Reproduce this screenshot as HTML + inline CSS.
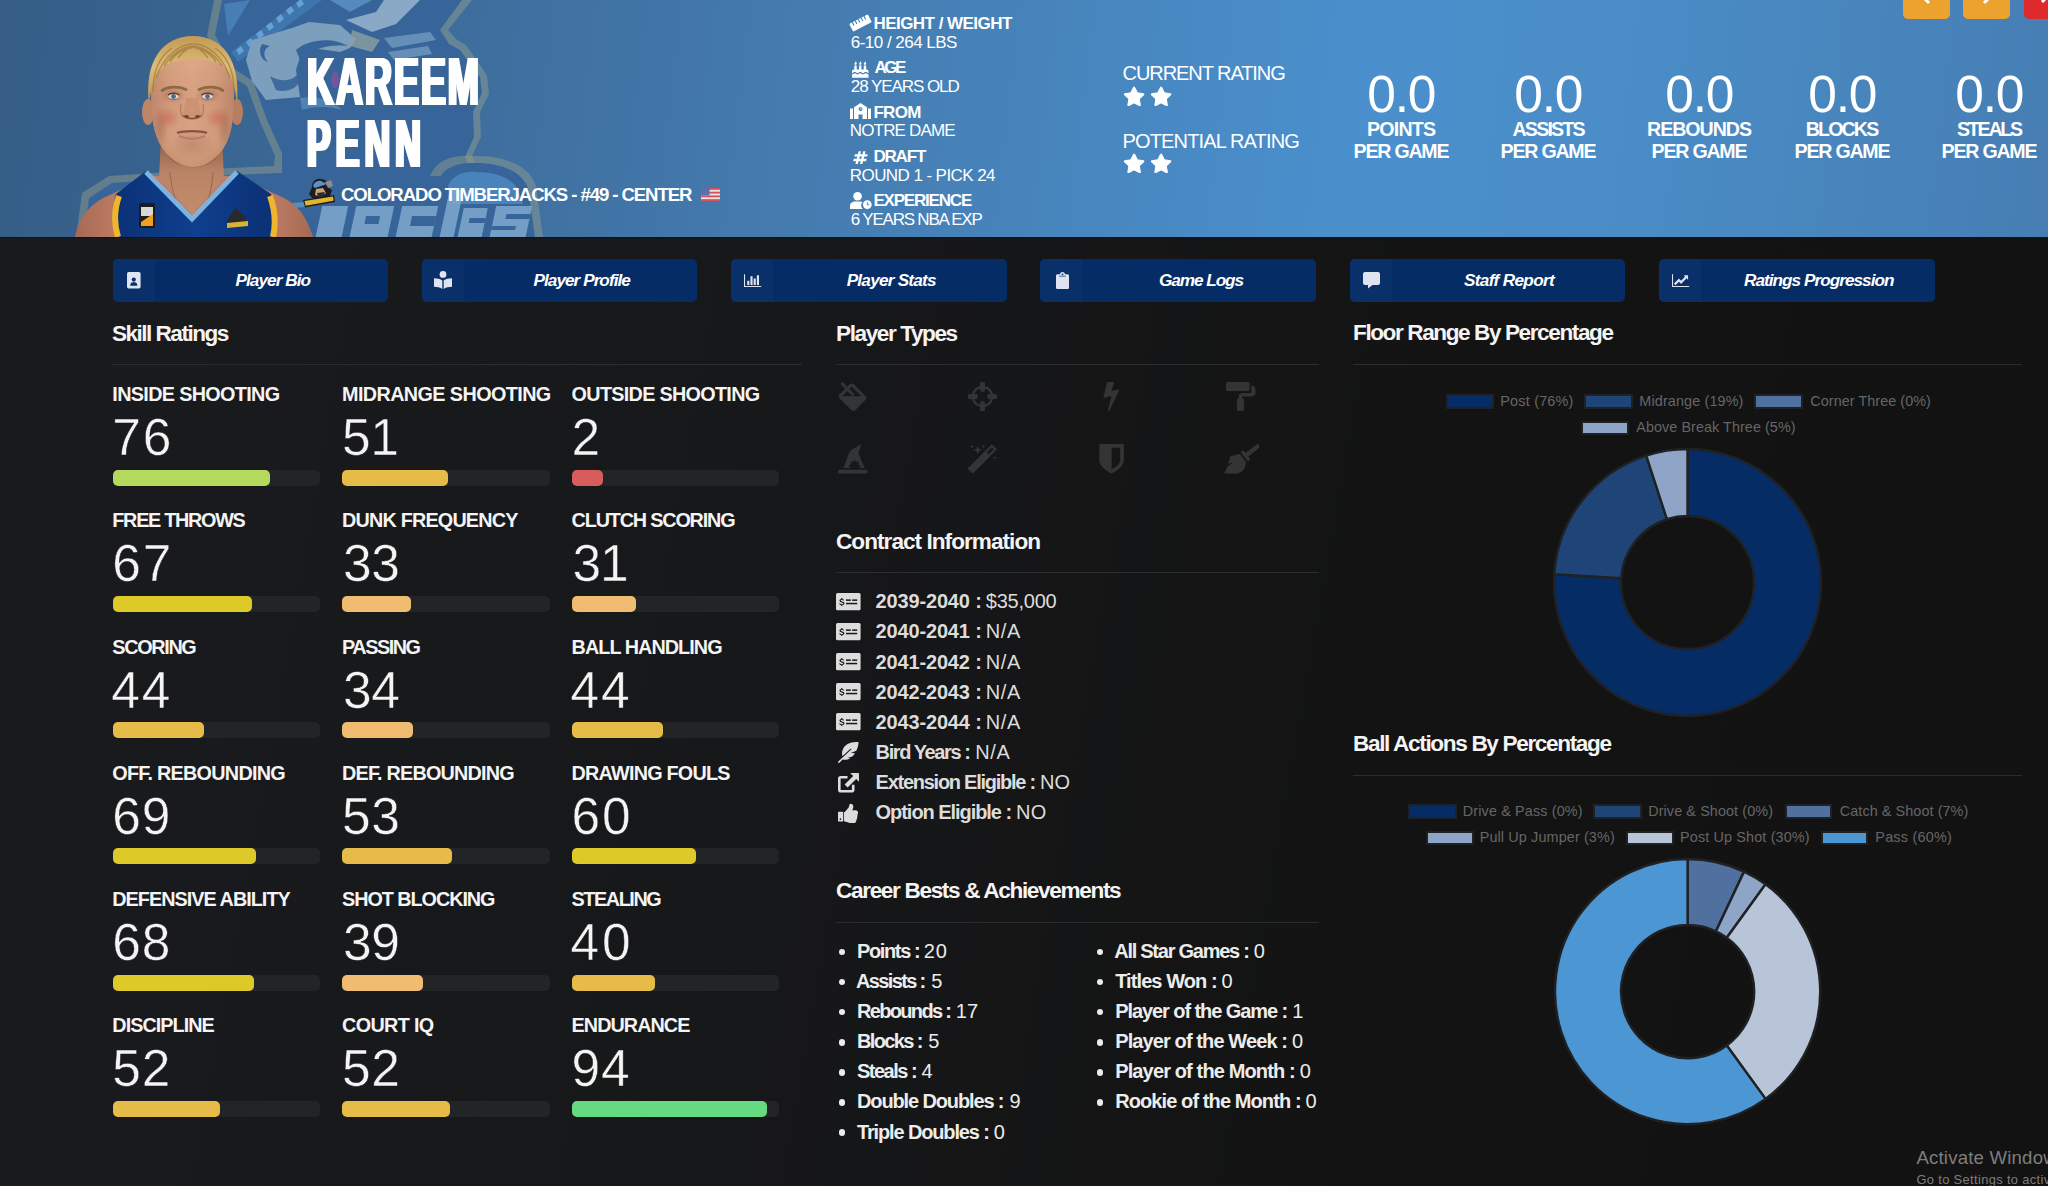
<!DOCTYPE html>
<html lang="en">
<head>
<meta charset="utf-8">
<title>Kareem Penn - Player</title>
<style>
html,body{margin:0;padding:0}
body{width:2048px;height:1186px;overflow:hidden;position:relative;background:linear-gradient(100deg,#1a1b1e 0%,#17181a 35%,#131313 70%,#121212 100%);font-family:"Liberation Sans",sans-serif;color:#fff}
.t{position:absolute;white-space:nowrap;line-height:1;color:#fff}
.ic{position:absolute;display:block;overflow:visible}
.abs{position:absolute}
#hdr{position:absolute;left:0;top:0;width:2048px;height:237px;overflow:hidden;background:linear-gradient(97deg,#355d86 0%,#3b6896 16%,#457cb0 40%,#4a90cd 66%,#4a8cc6 80%,#467eb3 100%)}
.tab{position:absolute;top:259px;width:275.5px;height:42.5px;border-radius:5px;background:#052c65}
.tab i{position:absolute;left:0;top:0;width:42px;height:42.5px;border-radius:5px 0 0 5px;background:#093068}
.hr{position:absolute;height:1px;background:#2b2c2e}
.bar{position:absolute;width:207.5px;height:16px;border-radius:5px;background:#232425}
.bar b{position:absolute;left:0;top:0;height:16px;border-radius:5px;display:block}
#hdrline{position:absolute;left:0;top:237px;width:2048px;height:1.4px;background:#04172b}

</style>
</head>
<body>
<header>
<div id="hdr">
<svg class="abs" style="left:0;top:0" width="700" height="237" viewBox="0 0 700 237">
<g stroke-linejoin="round" stroke-linecap="round">
 <!-- outer halo of the mark -->
 <path d="M214 0 L207 36 L228 74 L247 86 L260 122 L275 156 L274 166 L231 168 L109 176 L82 193 L76 237 L531 237 L526 196 L489 168 L480 176 L472 156 L481 137 L480 112 L489 94 L487 75 L466 45 L456 39 L448 30 L472 0 Z" fill="#8d9c8e" opacity=".5"/>
 <!-- navy body -->
 <path d="M222 0 L215 35 L234 69 L253 81 L267 120 L282 153 L282 173 L232 175 L112 183 L89 198 L84 237 L523 237 L519 200 L488 177 L478 183 L465 157 L474 137 L473 112 L482 93 L480 77 L460 50 L449 44 L440 30 L462 0 Z" fill="#37659a"/>
 <!-- beanie band + dashes -->
 <path d="M231 52 L300 0 L322 0 L238 62 Z" fill="#3f76ad"/>
 <g fill="#6aa6d8" opacity=".9">
  <path d="M236 50 l5 -4 l3 5 l-5 4 Z M246 42 l5 -4 l3 5 l-5 4 Z M256 34 l5 -4 l3 5 l-5 4 Z M266 26 l5 -4 l3 5 l-5 4 Z M276 18 l5 -4 l3 5 l-5 4 Z M286 10 l5 -4 l3 5 l-5 4 Z M296 3 l5 -4 l3 5 l-5 4 Z"/>
 </g>
 <path d="M224 4 L250 0 L228 36 Z" fill="#4a84bb" opacity=".8"/>
 <!-- face (light) -->
 <path d="M252 40 L282 31 L292 28 L309 22 L340 25 L356 39 L350 48 L340 52 L312 48 L301 54 L296 70 L300 97 L266 100 L252 81 L246 60 Z" fill="#7c9fbe"/>
 <path d="M262 44 C258 50 260 60 268 62 C262 56 264 48 270 46 Z" fill="#37659a"/>
 <path d="M296 50 C306 40 332 36 348 46 C330 44 312 48 300 60 Z" fill="#37659a"/>
 <path d="M270 76 C284 84 296 80 300 70 C304 84 292 94 276 90 Z" fill="#37659a" opacity=".9"/>
 <!-- axe head / right -->
 <path d="M346 20 L376 12 L384 0 L420 0 L396 24 L372 32 Z" fill="#89a9c6"/>
 <path d="M352 30 L380 40 L372 52 L350 46 Z" fill="#8ca0a0" opacity=".8"/>
 <path d="M384 38 L430 32 L436 40 L392 48 Z M388 52 L428 46 L432 54 L394 60 Z" fill="#6f97bd" opacity=".85"/>
 <path d="M330 0 L372 0 L350 12 Z" fill="#5b93c6" opacity=".8"/>
 <!-- moustache / beard highlights -->
 <path d="M300 98 C318 96 334 100 342 110 C330 106 314 106 302 110 Z" fill="#5a8fc1" opacity=".7"/>
 <ellipse cx="335" cy="80" rx="4" ry="8" fill="#8a4f9c" opacity=".75"/>
 <!-- wordmark: right lobe + block letters -->
 <path d="M430 176 C436 160 452 154 476 156 C506 156 530 166 536 186 L543 237 L523 237 L519 200 L488 177 Z" fill="#8d9c8e" opacity=".5"/>
 <path d="M438 180 C444 168 456 162 476 163 C502 163 522 172 528 188 L535 237 L440 237 Z" fill="#37659a"/>
 <path d="M448 186 C452 176 462 171 476 172 C498 172 514 179 519 192 L523 204 L452 204 Z" fill="#4a86c0" opacity=".9"/>
 <g fill="#7ba4ca" opacity=".9" transform="skewX(-12)">
  <path d="M366 206 h26 v31 h-26 Z M400 206 h38 v31 h-38 Z M446 206 h36 v31 h-36 Z M490 190 h14 v47 h-14 Z M508 208 h24 v29 h-24 Z M540 206 h36 v31 h-36 Z"/>
 </g>
 <g fill="#37659a" transform="skewX(-12)">
  <path d="M412 216 h14 v8 h-14 Z M458 216 h24 v10 h-24 Z M516 218 h16 v5 h-16 Z M552 214 h24 v5 h-24 Z M540 226 h24 v4 h-24 Z"/>
 </g>
 <!-- left letters: outlined -->
 <g fill="none" stroke="#5c97c9" stroke-width="5" opacity=".8" stroke-linejoin="round">
  <path d="M98 237 V212 Q98 203 108 201 L150 192"/>
  <path d="M286 237 V206 L312 204"/>
 </g>
</g>
</svg>
<svg class="abs" style="left:60px;top:20px" width="270" height="217" viewBox="60 20 270 217">
<defs>
 <linearGradient id="skin" x1="0" y1="0" x2="1" y2="0"><stop offset="0" stop-color="#a9745a"/><stop offset=".22" stop-color="#cf9777"/><stop offset=".5" stop-color="#dba585"/><stop offset=".78" stop-color="#cc9474"/><stop offset="1" stop-color="#a56f56"/></linearGradient>
 <linearGradient id="skinv" x1="0" y1="0" x2="0" y2="1"><stop offset="0" stop-color="#e3b48f"/><stop offset=".45" stop-color="#d39a7c"/><stop offset=".8" stop-color="#d6a183"/><stop offset="1" stop-color="#b98466"/></linearGradient>
 <linearGradient id="arm" x1="0" y1="0" x2="1" y2="0"><stop offset="0" stop-color="#a56a54"/><stop offset=".2" stop-color="#c17d65"/><stop offset=".8" stop-color="#c17d65"/><stop offset="1" stop-color="#a56a54"/></linearGradient>
 <linearGradient id="neck" x1="0" y1="0" x2="0" y2="1"><stop offset="0" stop-color="#8f5e47"/><stop offset=".45" stop-color="#b98366"/><stop offset="1" stop-color="#c48c6c"/></linearGradient>
 <linearGradient id="hair" x1="0" y1="0" x2="0" y2="1"><stop offset="0" stop-color="#c39a55"/><stop offset=".45" stop-color="#dcbb78"/><stop offset="1" stop-color="#b98d4c"/></linearGradient>
 <linearGradient id="jer" x1="0" y1="0" x2="1" y2="0"><stop offset="0" stop-color="#0b3176"/><stop offset=".5" stop-color="#0f3f8e"/><stop offset="1" stop-color="#0b3074"/></linearGradient>
 <radialGradient id="sock" cx=".5" cy=".5" r=".5"><stop offset="0" stop-color="#8d5a46" stop-opacity=".55"/><stop offset="1" stop-color="#8d5a46" stop-opacity="0"/></radialGradient>
 <radialGradient id="chk" cx=".5" cy=".5" r=".5"><stop offset="0" stop-color="#c9604f" stop-opacity=".55"/><stop offset="1" stop-color="#c9604f" stop-opacity="0"/></radialGradient>
</defs>
<!-- shoulders / arms -->
<path d="M75 237 C80 214 92 202 112 194 L150 176 L236 176 L275 194 C296 202 306 214 313 237 Z" fill="url(#arm)"/>
<!-- neck -->
<path d="M161 138 L222 138 L224 178 L192 214 L159 178 Z" fill="url(#neck)"/>
<path d="M170 172 C171 186 174 196 178 204 M213 172 C212 186 210 196 206 204" fill="none" stroke="#8a5a44" stroke-width="1" opacity=".7"/>
<!-- jersey -->
<path d="M117 237 C113 222 112 206 116 194 L146 171 L192 221 L237 171 L271 194 C275 206 277 222 275 237 Z" fill="url(#jer)"/>
<path d="M119 196 C114 210 114 224 118 237" fill="none" stroke="#f0b52e" stroke-width="6"/>
<path d="M270 196 C275 210 276 224 273 237" fill="none" stroke="#f0b52e" stroke-width="6"/>
<path d="M146 172 L192 219 L237 172" fill="none" stroke="#7db3dc" stroke-width="5" stroke-linejoin="miter"/>
<!-- jersey patches -->
<rect x="139" y="203" width="16" height="25" rx="2" fill="#1c1c1c"/>
<rect x="141" y="207" width="12" height="9" fill="#d8d8d8"/>
<path d="M141 222 L153 214 L153 226 L141 226 Z" fill="#f0a020"/>
<path d="M227 220 L236 208 L246 218 L248 225 L228 227 Z" fill="#2a2a2a"/>
<path d="M227 223 L248 221 L248 226 L227 228 Z" fill="#d9b23a"/>
<!-- ears -->
<ellipse cx="148" cy="112" rx="6" ry="13" fill="#bf8567"/>
<ellipse cx="237" cy="112" rx="6" ry="13" fill="#b87e61"/>
<!-- head -->
<path id="hd" d="M151 96 C150 60 166 42 193 42 C220 42 236 60 234 96 C234 122 231 140 220 153 C210 164 201 167 193 167 C185 167 176 164 166 153 C155 140 151 122 151 96 Z" fill="url(#skin)"/>
<path d="M151 96 C150 60 166 42 193 42 C220 42 236 60 234 96 C234 122 231 140 220 153 C210 164 201 167 193 167 C185 167 176 164 166 153 C155 140 151 122 151 96 Z" fill="url(#skinv)" opacity=".5"/>
<!-- eye sockets / cheeks -->
<ellipse cx="173" cy="95" rx="13" ry="8" fill="url(#sock)"/>
<ellipse cx="208" cy="95" rx="13" ry="8" fill="url(#sock)"/>
<ellipse cx="167" cy="118" rx="13" ry="11" fill="url(#chk)"/>
<ellipse cx="218" cy="118" rx="13" ry="11" fill="url(#chk)"/>
<ellipse cx="192" cy="144" rx="22" ry="15" fill="url(#sock)" opacity=".55"/><ellipse cx="160" cy="128" rx="8" ry="22" fill="url(#sock)" opacity=".6"/><ellipse cx="225" cy="128" rx="8" ry="22" fill="url(#sock)" opacity=".6"/>
<!-- hair -->
<path d="M149 104 C144 62 162 36 193 36 C224 36 241 62 237 104 C235 86 231 74 223 66 C211 57 176 57 164 66 C156 74 151 86 149 104 Z" fill="url(#hair)"/>
<path d="M156 78 C164 54 182 44 193 44 M164 66 C174 50 188 46 195 46 M230 78 C222 54 206 44 194 44 M222 66 C212 50 200 47 194 46 M178 58 C184 50 190 47 194 47 M208 58 C202 50 198 47 194 47 M153 92 C153 70 160 56 172 48 M234 92 C234 70 227 56 215 48 M170 62 C176 52 186 48 192 48 M216 62 C210 52 200 48 195 48" fill="none" stroke="#a47c3e" stroke-width="1.500" opacity=".75"/>
<!-- brows / eyes -->
<path d="M162 90.500 C168 86.500 178 86 186 89.500 M199 89.500 C207 86 217 86.500 223 90.500" fill="none" stroke="#8d6a42" stroke-width="2.800" stroke-linecap="round"/>
<ellipse cx="173.500" cy="96.500" rx="5" ry="2.500" fill="#e4d8d0"/>
<ellipse cx="207.500" cy="96.500" rx="5" ry="2.500" fill="#e4d8d0"/>
<circle cx="173.500" cy="96.500" r="2.400" fill="#466f8c"/>
<circle cx="207.500" cy="96.500" r="2.400" fill="#466f8c"/>
<path d="M168 95 C171 92.600 176 92.600 179.500 95 M201.500 95 C205 92.600 210 92.600 213 95" fill="none" stroke="#5a3a2e" stroke-width="1.300"/><path d="M169 98.500 C172 100 176 100 178.500 98.500 M202.500 98.500 C205 100 209 100 212 98.500" fill="none" stroke="#9a6a58" stroke-width=".9"/>
<!-- nose -->
<path d="M186 98 C185 108 182 112 183 116 C188 119 196 119 201 116 C202 112 199 108 198 98" fill="#c48a6b" opacity=".6"/>
<path d="M183 116 C188 119.500 196 119.500 201 116" fill="none" stroke="#8a5442" stroke-width="1.600"/><ellipse cx="186.500" cy="116.300" rx="2" ry="1.200" fill="#6e4033"/><ellipse cx="197.500" cy="116.300" rx="2" ry="1.200" fill="#6e4033"/><path d="M181 104 C180 110 180 114 183 117 M203 104 C204 110 204 114 201 117" fill="none" stroke="#a06a54" stroke-width="1.200" opacity=".7"/>
<!-- mouth -->
<path d="M177 133 C184 130.500 200 130.500 207 133" fill="none" stroke="#8c4f42" stroke-width="2.200"/>
<path d="M179 136 C187 139.500 197 139.500 205 136" fill="none" stroke="#b87462" stroke-width="2.400" opacity=".8"/>
<!-- jaw shade -->
<path d="M166 153 C176 164 185 167 193 167 C201 167 210 164 220 153 C212 172 174 172 166 153 Z" fill="#8f5e47" opacity=".55"/>
</svg>
</div>
<div id="hdrline"></div>
<h1 style="margin:0;font-size:inherit;font-weight:inherit">
<div class="t" style="left:306.59px;top:47px;font-size:68px;font-weight:bold;letter-spacing:3.6px;transform:scaleX(0.55);transform-origin:0 0;text-shadow:2.7px 0 0 #fff,-2.7px 0 0 #fff">KAREEM</div>
<div class="t" style="left:306.91px;top:109px;font-size:68px;font-weight:bold;letter-spacing:10px;transform:scaleX(0.52);transform-origin:0 0;text-shadow:3.25px 0 0 #fff,-3.25px 0 0 #fff">PENN</div>
</h1>
<svg class="ic" style="left:303px;top:178px" width="32" height="30" viewBox="0 0 32 30">
<path d="M9 9 C9 3 14 0 18 1 C23 1 27 5 26 10 L29 12 L27 18 L22 21 L10 21 L6 16 Z" fill="#1d1d1f"/>
<path d="M10 8 C11 4 15 2 18 3 L24 6 L12 10 Z" fill="#5f8fc4"/>
<path d="M13 11 L20 10 L23 15 L18 19 L12 17 Z" fill="#c9a27a"/>
<path d="M22 4 L28 2 L30 8 L25 10 Z" fill="#8d8d8d"/>
<path d="M14 15 L22 14 L20 19 L15 19 Z" fill="#2a2a2c"/>
<path d="M0 22 L31 17 L32 24 L2 29.500 Z" fill="#1d1d1f"/>
<path d="M1.500 23 L30 18.500 L30.600 22.800 L2.600 27.800 Z" fill="#e3b52e"/>
</svg>
<div class="t" style="left:341.00px;top:186px;font-size:18.6px;letter-spacing:-1.088px;font-weight:bold;">COLORADO TIMBERJACKS - #49 - CENTER</div>
<svg class="ic" style="left:701px;top:188px" width="19" height="13" viewBox="0 0 19 13">
<rect width="19" height="13" fill="#e8e4e6"/>
<g fill="#d8505a"><rect y="0" width="19" height="1.86"/><rect y="3.71" width="19" height="1.86"/><rect y="7.43" width="19" height="1.86"/><rect y="11.14" width="19" height="1.86"/></g>
<rect width="8.500" height="7.400" fill="#5a6fb0"/>
</svg>
<svg class="ic" style="left:850px;top:14.500px" width="21" height="16" viewBox="0 0 21 16"><g transform="rotate(-27 10.500 8)"><rect x="0" y="3.600" width="21" height="8.800" rx="1" fill="#fff"/><g fill="#4681b7"><rect x="3" y="3.600" width="1.100" height="3.600"/><rect x="6.300" y="3.600" width="1.100" height="3.600"/><rect x="9.600" y="3.600" width="1.100" height="3.600"/><rect x="12.900" y="3.600" width="1.100" height="3.600"/><rect x="16.200" y="3.600" width="1.100" height="3.600"/></g></g></svg>
<div class="t" style="left:873.40px;top:15px;font-size:17px;letter-spacing:-0.529px;font-weight:bold;">HEIGHT / WEIGHT</div>
<div class="t" style="left:850.80px;top:34px;font-size:17px;letter-spacing:-0.529px;">6-10 / 264 LBS</div>
<svg class="ic" style="left:852px;top:58.5px;" width="16.5" height="16.5" viewBox="0 -256 1792 1792"><path fill="#fff" transform="translate(0,1536) scale(1,-1)" d="M1792 128v-384h-1792v384q45 0 85 14t59 27.5t47 37.5q30 27 51.5 38t56.5 11q24 0 44 -7t31 -15t33 -27q29 -25 47 -38t58 -27t86 -14q45 0 85 14.5t58 27t48 37.5q21 19 32.5 27t31 15t43.5 7q35 0 56.5 -11t51.5 -38q28 -24 47 -37.5t59 -27.5t85 -14t85 14t59 27.5
t47 37.5q30 27 51.5 38t56.5 11q34 0 55.5 -11t51.5 -38q28 -24 47 -37.5t59 -27.5t85 -14zM1792 448v-192q-24 0 -44 7t-31 15t-33 27q-29 25 -47 38t-58 27t-85 14q-46 0 -86 -14t-58 -27t-47 -38q-22 -19 -33 -27t-31 -15t-44 -7q-35 0 -56.5 11t-51.5 38q-29 25 -47 38
t-58 27t-86 14q-45 0 -85 -14.5t-58 -27t-48 -37.5q-21 -19 -32.5 -27t-31 -15t-43.5 -7q-35 0 -56.5 11t-51.5 38q-28 24 -47 37.5t-59 27.5t-85 14q-46 0 -86 -14t-58 -27t-47 -38q-30 -27 -51.5 -38t-56.5 -11v192q0 80 56 136t136 56h64v448h256v-448h256v448h256v-448
h256v448h256v-448h64q80 0 136 -56t56 -136zM512 1312q0 -77 -36 -118.5t-92 -41.5q-53 0 -90.5 37.5t-37.5 90.5q0 29 9.5 51t23.5 34t31 28t31 31.5t23.5 44.5t9.5 67q38 0 83 -74t45 -150zM1024 1312q0 -77 -36 -118.5t-92 -41.5q-53 0 -90.5 37.5t-37.5 90.5
q0 29 9.5 51t23.5 34t31 28t31 31.5t23.5 44.5t9.5 67q38 0 83 -74t45 -150zM1536 1312q0 -77 -36 -118.5t-92 -41.5q-53 0 -90.5 37.5t-37.5 90.5q0 29 9.5 51t23.5 34t31 28t31 31.5t23.5 44.5t9.5 67q38 0 83 -74t45 -150z"/></svg>
<div class="t" style="left:874.40px;top:59px;font-size:17px;letter-spacing:-2.450px;font-weight:bold;">AGE</div>
<div class="t" style="left:850.80px;top:78px;font-size:17px;letter-spacing:-1.065px;">28 YEARS OLD</div>
<svg class="ic" style="left:850px;top:103px" width="21" height="16" viewBox="0 0 21 16"><path fill="#fff" d="M0 5.500h3v10.500h-3z M18 5.500h3v10.500h-3z M4 4.200 L10.500 0 L17 4.200 V16 H12.500 V11.500 H8.500 V16 H4 Z"/><circle cx="10.500" cy="6" r="2" fill="#4783b9"/><path d="M10.500 4.800V6H11.600" stroke="#fff" stroke-width=".7" fill="none"/></svg>
<div class="t" style="left:873.40px;top:104px;font-size:17px;letter-spacing:-0.678px;font-weight:bold;">FROM</div>
<div class="t" style="left:849.80px;top:122px;font-size:17px;letter-spacing:-0.839px;">NOTRE DAME</div>
<svg class="ic" style="left:852.5px;top:148px;" width="15" height="15" viewBox="0 -256 1792 1792"><path fill="#fff" transform="translate(0,1536) scale(1,-1)" d="M991 512l64 256h-254l-64 -256h254zM1759 1016l-56 -224q-7 -24 -31 -24h-327l-64 -256h311q15 0 25 -12q10 -14 6 -28l-56 -224q-5 -24 -31 -24h-327l-81 -328q-7 -24 -31 -24h-224q-16 0 -26 12q-9 12 -6 28l78 312h-254l-81 -328q-7 -24 -31 -24h-225q-15 0 -25 12
q-9 12 -6 28l78 312h-311q-15 0 -25 12q-9 12 -6 28l56 224q7 24 31 24h327l64 256h-311q-15 0 -25 12q-10 14 -6 28l56 224q5 24 31 24h327l81 328q7 24 32 24h224q15 0 25 -12q9 -12 6 -28l-78 -312h254l81 328q7 24 32 24h224q15 0 25 -12q9 -12 6 -28l-78 -312h311
q15 0 25 -12q9 -12 6 -28z"/></svg>
<div class="t" style="left:873.40px;top:148px;font-size:17px;letter-spacing:-1.179px;font-weight:bold;">DRAFT</div>
<div class="t" style="left:849.80px;top:167px;font-size:17px;letter-spacing:-0.579px;">ROUND 1 - PICK 24</div>
<svg class="ic" style="left:850px;top:192px" width="22" height="17" viewBox="0 0 22 17"><circle cx="7.600" cy="4.300" r="4.300" fill="#fff"/><path fill="#fff" d="M0 17 V14 C0 11 2.500 9.400 5 9.400 H10.200 C11 9.400 12 9.600 12.600 10 C11.500 11.200 11 12.600 11.200 14 C11.400 15.200 12 16.200 12.800 17 Z"/><circle cx="17.300" cy="12.600" r="4.400" fill="#fff"/><path d="M17.300 10.200V12.800H19.200" stroke="#4a88c0" stroke-width="1" fill="none"/></svg>
<div class="t" style="left:873.40px;top:192px;font-size:17px;letter-spacing:-1.194px;font-weight:bold;">EXPERIENCE</div>
<div class="t" style="left:850.80px;top:211px;font-size:17px;letter-spacing:-1.210px;">6 YEARS NBA EXP</div>
<div class="t" style="left:1122.50px;top:63px;font-size:20px;letter-spacing:-1.057px;">CURRENT RATING</div>
<div class="t" style="left:1122.50px;top:131px;font-size:20px;letter-spacing:-0.847px;">POTENTIAL RATING</div>
<svg class="ic" style="left:1124.4px;top:86.6px" width="20.2" height="18.6" viewBox="0 0 1664 1587" preserveAspectRatio="xMidYMid meet"><path stroke="#fff" stroke-width="90" stroke-linejoin="round" fill="#fff" transform="translate(-0,1504) scale(1,-1)" d="M1664 889q0 -22 -26 -48l-363 -354l86 -500q1 -7 1 -20q0 -21 -10.5 -35.5t-30.5 -14.5q-19 0 -40 12l-449 236l-449 -236q-22 -12 -40 -12q-21 0 -31.5 14.5t-10.5 35.5q0 6 2 20l86 500l-364 354q-25 27 -25 48q0 37 56 46l502 73l225 455q19 41 49 41t49 -41l225 -455
l502 -73q56 -9 56 -46z"/></svg>
<svg class="ic" style="left:1151.4px;top:86.6px" width="20.2" height="18.6" viewBox="0 0 1664 1587" preserveAspectRatio="xMidYMid meet"><path stroke="#fff" stroke-width="90" stroke-linejoin="round" fill="#fff" transform="translate(-0,1504) scale(1,-1)" d="M1664 889q0 -22 -26 -48l-363 -354l86 -500q1 -7 1 -20q0 -21 -10.5 -35.5t-30.5 -14.5q-19 0 -40 12l-449 236l-449 -236q-22 -12 -40 -12q-21 0 -31.5 14.5t-10.5 35.5q0 6 2 20l86 500l-364 354q-25 27 -25 48q0 37 56 46l502 73l225 455q19 41 49 41t49 -41l225 -455
l502 -73q56 -9 56 -46z"/></svg>
<svg class="ic" style="left:1124.4px;top:154.1px" width="20.2" height="18.6" viewBox="0 0 1664 1587" preserveAspectRatio="xMidYMid meet"><path stroke="#fff" stroke-width="90" stroke-linejoin="round" fill="#fff" transform="translate(-0,1504) scale(1,-1)" d="M1664 889q0 -22 -26 -48l-363 -354l86 -500q1 -7 1 -20q0 -21 -10.5 -35.5t-30.5 -14.5q-19 0 -40 12l-449 236l-449 -236q-22 -12 -40 -12q-21 0 -31.5 14.5t-10.5 35.5q0 6 2 20l86 500l-364 354q-25 27 -25 48q0 37 56 46l502 73l225 455q19 41 49 41t49 -41l225 -455
l502 -73q56 -9 56 -46z"/></svg>
<svg class="ic" style="left:1151.4px;top:154.1px" width="20.2" height="18.6" viewBox="0 0 1664 1587" preserveAspectRatio="xMidYMid meet"><path stroke="#fff" stroke-width="90" stroke-linejoin="round" fill="#fff" transform="translate(-0,1504) scale(1,-1)" d="M1664 889q0 -22 -26 -48l-363 -354l86 -500q1 -7 1 -20q0 -21 -10.5 -35.5t-30.5 -14.5q-19 0 -40 12l-449 236l-449 -236q-22 -12 -40 -12q-21 0 -31.5 14.5t-10.5 35.5q0 6 2 20l86 500l-364 354q-25 27 -25 48q0 37 56 46l502 73l225 455q19 41 49 41t49 -41l225 -455
l502 -73q56 -9 56 -46z"/></svg>
<div class="t" style="left:1367.14px;top:69px;font-size:51.5px;letter-spacing:-1.111px;">0.0</div>
<div class="t" style="left:1366.90px;top:120px;font-size:19.6px;letter-spacing:-0.736px;font-weight:bold;">POINTS</div>
<div class="t" style="left:1353.54px;top:142px;font-size:19.6px;letter-spacing:-1.217px;font-weight:bold;">PER GAME</div>
<div class="t" style="left:1514.14px;top:69px;font-size:51.5px;letter-spacing:-1.111px;">0.0</div>
<div class="t" style="left:1512.54px;top:120px;font-size:19.6px;letter-spacing:-1.808px;font-weight:bold;">ASSISTS</div>
<div class="t" style="left:1500.54px;top:142px;font-size:19.6px;letter-spacing:-1.217px;font-weight:bold;">PER GAME</div>
<div class="t" style="left:1665.14px;top:69px;font-size:51.5px;letter-spacing:-1.111px;">0.0</div>
<div class="t" style="left:1647.05px;top:120px;font-size:19.6px;letter-spacing:-1.023px;font-weight:bold;">REBOUNDS</div>
<div class="t" style="left:1651.54px;top:142px;font-size:19.6px;letter-spacing:-1.217px;font-weight:bold;">PER GAME</div>
<div class="t" style="left:1808.14px;top:69px;font-size:51.5px;letter-spacing:-1.111px;">0.0</div>
<div class="t" style="left:1805.85px;top:120px;font-size:19.6px;letter-spacing:-1.870px;font-weight:bold;">BLOCKS</div>
<div class="t" style="left:1794.54px;top:142px;font-size:19.6px;letter-spacing:-1.217px;font-weight:bold;">PER GAME</div>
<div class="t" style="left:1955.14px;top:69px;font-size:51.5px;letter-spacing:-1.111px;">0.0</div>
<div class="t" style="left:1956.89px;top:120px;font-size:19.6px;letter-spacing:-2.200px;font-weight:bold;">STEALS</div>
<div class="t" style="left:1941.54px;top:142px;font-size:19.6px;letter-spacing:-1.217px;font-weight:bold;">PER GAME</div>
<div class="abs" style="left:1903px;top:-6px;width:46.500px;height:25px;border-radius:5px;background:#eba32e"></div>
<div class="abs" style="left:1963px;top:-6px;width:46.500px;height:25px;border-radius:5px;background:#eba32e"></div>
<div class="abs" style="left:2024px;top:-6px;width:46.500px;height:25px;border-radius:5px;background:#de2a2c"></div>
<svg class="ic" style="left:1921px;top:-10.500px" width="10" height="14" viewBox="0 0 10 14"><path d="M8 1 L2 7 L8 13" stroke="#fff" stroke-width="3" fill="none"/></svg>
<svg class="ic" style="left:1982px;top:-10.500px" width="10" height="14" viewBox="0 0 10 14"><path d="M2 1 L8 7 L2 13" stroke="#fff" stroke-width="3" fill="none"/></svg>
<svg class="ic" style="left:2040px;top:-10.500px" width="14" height="14" viewBox="0 0 14 14"><path d="M2 2 L12 12 M12 2 L2 12" stroke="#fff" stroke-width="3" fill="none"/></svg>
</header>
<nav>
<div class="tab" style="left:112.5px"><i></i></div>
<div class="t" style="left:235.50px;top:272px;font-size:17.2px;letter-spacing:-0.952px;font-weight:bold;font-style:italic;">Player Bio</div>
<svg class="ic" style="left:127.2px;top:271.900px" width="13.600" height="16.500" viewBox="0 0 13.600 16.500"><rect width="13.600" height="16.500" rx="1.700" fill="#dfe4f0"/><circle cx="6.800" cy="7.600" r="2.050" fill="#0a3068"/><path fill="#0a3068" d="M3.300 13.200 C3.300 11.400 4.600 10.300 5.800 10.300 H7.800 C9 10.300 10.300 11.400 10.300 13.200 C10.300 13.600 10 13.800 9.700 13.800 H3.900 C3.600 13.800 3.300 13.600 3.300 13.200 Z"/></svg>
<div class="tab" style="left:421.8px"><i></i></div>
<div class="t" style="left:533.50px;top:272px;font-size:17.2px;letter-spacing:-0.962px;font-weight:bold;font-style:italic;">Player Profile</div>
<svg class="ic" style="left:434.4px;top:271px" width="18" height="18" viewBox="0 0 18 18"><circle cx="9" cy="3.400" r="3.400" fill="#dfe4f0"/><path fill="#dfe4f0" d="M0 7.200 C3 7.200 6.500 8 8.300 9.600 V18 C6.500 16.500 3 15.700 0 15.700 Z M18 7.200 C15 7.200 11.500 8 9.700 9.600 V18 C11.500 16.500 15 15.700 18 15.700 Z"/></svg>
<div class="tab" style="left:731.1px"><i></i></div>
<div class="t" style="left:846.70px;top:272px;font-size:17.2px;letter-spacing:-0.777px;font-weight:bold;font-style:italic;">Player Stats</div>
<svg class="ic" style="left:744.2px;top:271.2px;" width="17.1429" height="15" viewBox="0 -256 2048 1792"><path fill="#dfe4f0" transform="translate(0,1536) scale(1,-1)" d="M640 640v-512h-256v512h256zM1024 1152v-1024h-256v1024h256zM2048 0v-128h-2048v1536h128v-1408h1920zM1408 896v-768h-256v768h256zM1792 1280v-1152h-256v1152h256z"/></svg>
<div class="tab" style="left:1040.4px"><i></i></div>
<div class="t" style="left:1159.00px;top:272px;font-size:17.2px;letter-spacing:-1.068px;font-weight:bold;font-style:italic;">Game Logs</div>
<svg class="ic" style="left:1055.5px;top:271.500px" width="13" height="17" viewBox="0 0 13 17"><path fill="#dfe4f0" d="M1.600 2.200 H4 C4.200 .9 5.200 0 6.500 0 C7.800 0 8.800 .9 9 2.200 H11.400 C12.300 2.200 13 2.900 13 3.800 V15.400 C13 16.300 12.300 17 11.400 17 H1.600 C.7 17 0 16.300 0 15.400 V3.800 C0 2.900 .7 2.200 1.600 2.200 Z"/><circle cx="6.500" cy="2.300" r=".9" fill="#0a3068"/><rect x="3.200" y="3.600" width="6.600" height="1.300" fill="#0a3068" opacity=".55"/></svg>
<div class="tab" style="left:1349.7px"><i></i></div>
<div class="t" style="left:1464.00px;top:272px;font-size:17.2px;letter-spacing:-0.665px;font-weight:bold;font-style:italic;">Staff Report</div>
<svg class="ic" style="left:1362.8px;top:272px" width="17" height="17" viewBox="0 0 17 17"><path fill="#dfe4f0" d="M2 0 H15 C16.100 0 17 .9 17 2 V11 C17 12.100 16.100 13 15 13 H9.500 L5 16.600 V13 H2 C.9 13 0 12.100 0 11 V2 C0 .9 .9 0 2 0 Z"/></svg>
<div class="tab" style="left:1659.0px"><i></i></div>
<div class="t" style="left:1744.00px;top:272px;font-size:17.2px;letter-spacing:-0.977px;font-weight:bold;font-style:italic;">Ratings Progression</div>
<svg class="ic" style="left:1672.1px;top:271.2px;" width="17.1429" height="15" viewBox="0 -256 2048 1792"><path fill="#dfe4f0" transform="translate(0,1536) scale(1,-1)" d="M2048 0v-128h-2048v1536h128v-1408h1920zM1920 1248v-435q0 -21 -19.5 -29.5t-35.5 7.5l-121 121l-633 -633q-10 -10 -23 -10t-23 10l-233 233l-416 -416l-192 192l585 585q10 10 23 10t23 -10l233 -233l464 464l-121 121q-16 16 -7.5 35.5t29.5 19.5h435q14 0 23 -9
t9 -23z"/></svg>
</nav>
<main>
<section id="skills">
<div class="t" style="left:112.00px;top:323px;font-size:22.6px;letter-spacing:-1.528px;font-weight:bold;color:#f4f4f4;">Skill Ratings</div>
<div class="hr" style="left:112px;top:364px;width:690px"></div>
<div class="t" style="left:112.30px;top:385px;font-size:19.8px;letter-spacing:-0.653px;font-weight:bold;color:#f4f4f4;">INSIDE SHOOTING</div>
<div class="t" style="left:112.30px;top:412px;font-size:51.5px;letter-spacing:1.703px;color:#f4f4f4;-webkit-text-stroke:.5px #18191b;">76</div>
<div class="bar" style="left:112.5px;top:469.50px"><b style="width:157.7px;background:#B4D95C"></b></div>
<div class="t" style="left:342.00px;top:385px;font-size:19.8px;letter-spacing:-0.592px;font-weight:bold;color:#f4f4f4;">MIDRANGE SHOOTING</div>
<div class="t" style="left:342.00px;top:412px;font-size:51.5px;letter-spacing:-0.297px;color:#f4f4f4;-webkit-text-stroke:.5px #18191b;">51</div>
<div class="bar" style="left:342.2px;top:469.50px"><b style="width:105.8px;background:#E6BB48"></b></div>
<div class="t" style="left:571.60px;top:385px;font-size:19.8px;letter-spacing:-0.693px;font-weight:bold;color:#f4f4f4;">OUTSIDE SHOOTING</div>
<div class="t" style="left:571.60px;top:412px;font-size:51.5px;color:#f4f4f4;-webkit-text-stroke:.5px #18191b;">2</div>
<div class="bar" style="left:571.8px;top:469.50px"><b style="width:31.0px;background:#D95C5C"></b></div>
<div class="t" style="left:112.30px;top:511px;font-size:19.8px;letter-spacing:-1.267px;font-weight:bold;color:#f4f4f4;">FREE THROWS</div>
<div class="t" style="left:112.30px;top:538px;font-size:51.5px;letter-spacing:1.703px;color:#f4f4f4;-webkit-text-stroke:.5px #18191b;">67</div>
<div class="bar" style="left:112.5px;top:595.75px"><b style="width:139.0px;background:#DDC928"></b></div>
<div class="t" style="left:342.00px;top:511px;font-size:19.8px;letter-spacing:-0.800px;font-weight:bold;color:#f4f4f4;">DUNK FREQUENCY</div>
<div class="t" style="left:343.00px;top:538px;font-size:51.5px;letter-spacing:-0.297px;color:#f4f4f4;-webkit-text-stroke:.5px #18191b;">33</div>
<div class="bar" style="left:342.2px;top:595.75px"><b style="width:68.5px;background:#EFBC72"></b></div>
<div class="t" style="left:571.60px;top:511px;font-size:19.8px;letter-spacing:-1.166px;font-weight:bold;color:#f4f4f4;">CLUTCH SCORING</div>
<div class="t" style="left:572.60px;top:538px;font-size:51.5px;letter-spacing:-1.297px;color:#f4f4f4;-webkit-text-stroke:.5px #18191b;">31</div>
<div class="bar" style="left:571.8px;top:595.75px"><b style="width:64.3px;background:#EFBC72"></b></div>
<div class="t" style="left:112.30px;top:638px;font-size:19.8px;letter-spacing:-1.312px;font-weight:bold;color:#f4f4f4;">SCORING</div>
<div class="t" style="left:111.30px;top:665px;font-size:51.5px;letter-spacing:1.703px;color:#f4f4f4;-webkit-text-stroke:.5px #18191b;">44</div>
<div class="bar" style="left:112.5px;top:722.00px"><b style="width:91.3px;background:#E6BB48"></b></div>
<div class="t" style="left:342.00px;top:638px;font-size:19.8px;letter-spacing:-1.431px;font-weight:bold;color:#f4f4f4;">PASSING</div>
<div class="t" style="left:343.00px;top:665px;font-size:51.5px;letter-spacing:-0.297px;color:#f4f4f4;-webkit-text-stroke:.5px #18191b;">34</div>
<div class="bar" style="left:342.2px;top:722.00px"><b style="width:70.5px;background:#EFBC72"></b></div>
<div class="t" style="left:571.60px;top:638px;font-size:19.8px;letter-spacing:-0.943px;font-weight:bold;color:#f4f4f4;">BALL HANDLING</div>
<div class="t" style="left:570.60px;top:665px;font-size:51.5px;letter-spacing:1.703px;color:#f4f4f4;-webkit-text-stroke:.5px #18191b;">44</div>
<div class="bar" style="left:571.8px;top:722.00px"><b style="width:91.3px;background:#E6BB48"></b></div>
<div class="t" style="left:112.30px;top:764px;font-size:19.8px;letter-spacing:-0.724px;font-weight:bold;color:#f4f4f4;">OFF. REBOUNDING</div>
<div class="t" style="left:112.30px;top:791px;font-size:51.5px;letter-spacing:0.703px;color:#f4f4f4;-webkit-text-stroke:.5px #18191b;">69</div>
<div class="bar" style="left:112.5px;top:848.25px"><b style="width:143.2px;background:#DDC928"></b></div>
<div class="t" style="left:342.00px;top:764px;font-size:19.8px;letter-spacing:-0.777px;font-weight:bold;color:#f4f4f4;">DEF. REBOUNDING</div>
<div class="t" style="left:342.00px;top:791px;font-size:51.5px;letter-spacing:0.703px;color:#f4f4f4;-webkit-text-stroke:.5px #18191b;">53</div>
<div class="bar" style="left:342.2px;top:848.25px"><b style="width:110.0px;background:#E6BB48"></b></div>
<div class="t" style="left:571.60px;top:764px;font-size:19.8px;letter-spacing:-0.773px;font-weight:bold;color:#f4f4f4;">DRAWING FOULS</div>
<div class="t" style="left:571.60px;top:791px;font-size:51.5px;letter-spacing:1.703px;color:#f4f4f4;-webkit-text-stroke:.5px #18191b;">60</div>
<div class="bar" style="left:571.8px;top:848.25px"><b style="width:124.5px;background:#DDC928"></b></div>
<div class="t" style="left:112.30px;top:890px;font-size:19.8px;letter-spacing:-0.962px;font-weight:bold;color:#f4f4f4;">DEFENSIVE ABILITY</div>
<div class="t" style="left:112.30px;top:917px;font-size:51.5px;letter-spacing:0.703px;color:#f4f4f4;-webkit-text-stroke:.5px #18191b;">68</div>
<div class="bar" style="left:112.5px;top:974.50px"><b style="width:141.1px;background:#DDC928"></b></div>
<div class="t" style="left:342.00px;top:890px;font-size:19.8px;letter-spacing:-1.037px;font-weight:bold;color:#f4f4f4;">SHOT BLOCKING</div>
<div class="t" style="left:343.00px;top:917px;font-size:51.5px;letter-spacing:-0.297px;color:#f4f4f4;-webkit-text-stroke:.5px #18191b;">39</div>
<div class="bar" style="left:342.2px;top:974.50px"><b style="width:80.9px;background:#EFBC72"></b></div>
<div class="t" style="left:571.60px;top:890px;font-size:19.8px;letter-spacing:-1.425px;font-weight:bold;color:#f4f4f4;">STEALING</div>
<div class="t" style="left:570.60px;top:917px;font-size:51.5px;letter-spacing:2.703px;color:#f4f4f4;-webkit-text-stroke:.5px #18191b;">40</div>
<div class="bar" style="left:571.8px;top:974.50px"><b style="width:83.0px;background:#E6BB48"></b></div>
<div class="t" style="left:112.30px;top:1016px;font-size:19.8px;letter-spacing:-0.948px;font-weight:bold;color:#f4f4f4;">DISCIPLINE</div>
<div class="t" style="left:112.30px;top:1043px;font-size:51.5px;letter-spacing:0.703px;color:#f4f4f4;-webkit-text-stroke:.5px #18191b;">52</div>
<div class="bar" style="left:112.5px;top:1100.75px"><b style="width:107.9px;background:#E6BB48"></b></div>
<div class="t" style="left:342.00px;top:1016px;font-size:19.8px;letter-spacing:-0.646px;font-weight:bold;color:#f4f4f4;">COURT IQ</div>
<div class="t" style="left:342.00px;top:1043px;font-size:51.5px;letter-spacing:0.703px;color:#f4f4f4;-webkit-text-stroke:.5px #18191b;">52</div>
<div class="bar" style="left:342.2px;top:1100.75px"><b style="width:107.9px;background:#E6BB48"></b></div>
<div class="t" style="left:571.60px;top:1016px;font-size:19.8px;letter-spacing:-0.957px;font-weight:bold;color:#f4f4f4;">ENDURANCE</div>
<div class="t" style="left:571.60px;top:1043px;font-size:51.5px;letter-spacing:0.703px;color:#f4f4f4;-webkit-text-stroke:.5px #18191b;">94</div>
<div class="bar" style="left:571.8px;top:1100.75px"><b style="width:195.1px;background:#66DA81"></b></div>
</section>
<section id="details">
<div class="t" style="left:836.00px;top:323px;font-size:22.6px;letter-spacing:-1.416px;font-weight:bold;color:#f4f4f4;">Player Types</div>
<div class="hr" style="left:836px;top:364px;width:483px"></div>
<div class="t" style="left:836.00px;top:531px;font-size:22.6px;letter-spacing:-0.969px;font-weight:bold;color:#f4f4f4;">Contract Information</div>
<div class="hr" style="left:836px;top:572px;width:483px"></div>
<div class="t" style="left:836.00px;top:880px;font-size:22.6px;letter-spacing:-1.345px;font-weight:bold;color:#f4f4f4;">Career Bests &amp; Achievements</div>
<div class="hr" style="left:836px;top:922px;width:483px"></div>
<div class="t" style="left:875.60px;top:591px;font-size:20px;letter-spacing:-0.160px;font-weight:bold;color:#dcdcdc;">2039-2040 :</div>
<div class="t" style="left:985.78px;top:591px;font-size:20px;letter-spacing:-0.220px;color:#dcdcdc;">$35,000</div>
<svg class="ic" style="left:836px;top:592.5px" width="24.600" height="17.300" viewBox="0 0 24.600 17.300"><rect width="24.600" height="17.300" rx="1.500" fill="#dcdcdc"/><g fill="#17181a"><rect x="10" y="6.400" width="4.800" height="1.500"/><rect x="16.200" y="6.400" width="5" height="1.500"/><rect x="10" y="9.800" width="11.200" height="1.500"/><path d="M5.200 5 h1.200 v.9 c.9 .1 1.500 .6 1.700 1.300 l-1 .3 c-.2 -.5 -.6 -.7 -1.300 -.7 c-.7 0 -1 .3 -1 .7 c0 .5 .5 .7 1.400 .9 c1.400 .3 2.200 .8 2.200 1.900 c0 1 -.8 1.600 -2 1.800 v.9 h-1.200 v-.9 c-1.100 -.1 -1.900 -.7 -2.100 -1.600 l1.100 -.3 c.2 .6 .7 1 1.600 1 c.8 0 1.300 -.3 1.300 -.8 c0 -.5 -.4 -.7 -1.500 -1 c-1.300 -.3 -2.100 -.8 -2.100 -1.800 c0 -.9 .7 -1.500 1.700 -1.700 z"/></g></svg>
<div class="t" style="left:875.60px;top:621px;font-size:20px;letter-spacing:-0.160px;font-weight:bold;color:#dcdcdc;">2040-2041 :</div>
<div class="t" style="left:985.78px;top:621px;font-size:20px;letter-spacing:0.592px;color:#dcdcdc;">N/A</div>
<svg class="ic" style="left:836px;top:622.7px" width="24.600" height="17.300" viewBox="0 0 24.600 17.300"><rect width="24.600" height="17.300" rx="1.500" fill="#dcdcdc"/><g fill="#17181a"><rect x="10" y="6.400" width="4.800" height="1.500"/><rect x="16.200" y="6.400" width="5" height="1.500"/><rect x="10" y="9.800" width="11.200" height="1.500"/><path d="M5.200 5 h1.200 v.9 c.9 .1 1.500 .6 1.700 1.300 l-1 .3 c-.2 -.5 -.6 -.7 -1.300 -.7 c-.7 0 -1 .3 -1 .7 c0 .5 .5 .7 1.400 .9 c1.400 .3 2.200 .8 2.200 1.900 c0 1 -.8 1.600 -2 1.800 v.9 h-1.200 v-.9 c-1.100 -.1 -1.900 -.7 -2.100 -1.600 l1.100 -.3 c.2 .6 .7 1 1.600 1 c.8 0 1.300 -.3 1.300 -.8 c0 -.5 -.4 -.7 -1.500 -1 c-1.300 -.3 -2.100 -.8 -2.100 -1.800 c0 -.9 .7 -1.500 1.700 -1.700 z"/></g></svg>
<div class="t" style="left:875.60px;top:652px;font-size:20px;letter-spacing:-0.160px;font-weight:bold;color:#dcdcdc;">2041-2042 :</div>
<div class="t" style="left:985.78px;top:652px;font-size:20px;letter-spacing:0.592px;color:#dcdcdc;">N/A</div>
<svg class="ic" style="left:836px;top:652.9px" width="24.600" height="17.300" viewBox="0 0 24.600 17.300"><rect width="24.600" height="17.300" rx="1.500" fill="#dcdcdc"/><g fill="#17181a"><rect x="10" y="6.400" width="4.800" height="1.500"/><rect x="16.200" y="6.400" width="5" height="1.500"/><rect x="10" y="9.800" width="11.200" height="1.500"/><path d="M5.200 5 h1.200 v.9 c.9 .1 1.500 .6 1.700 1.300 l-1 .3 c-.2 -.5 -.6 -.7 -1.300 -.7 c-.7 0 -1 .3 -1 .7 c0 .5 .5 .7 1.400 .9 c1.400 .3 2.200 .8 2.200 1.900 c0 1 -.8 1.600 -2 1.800 v.9 h-1.200 v-.9 c-1.100 -.1 -1.900 -.7 -2.100 -1.600 l1.100 -.3 c.2 .6 .7 1 1.600 1 c.8 0 1.300 -.3 1.300 -.8 c0 -.5 -.4 -.7 -1.500 -1 c-1.300 -.3 -2.100 -.8 -2.100 -1.800 c0 -.9 .7 -1.500 1.700 -1.700 z"/></g></svg>
<div class="t" style="left:875.60px;top:682px;font-size:20px;letter-spacing:-0.160px;font-weight:bold;color:#dcdcdc;">2042-2043 :</div>
<div class="t" style="left:985.78px;top:682px;font-size:20px;letter-spacing:0.592px;color:#dcdcdc;">N/A</div>
<svg class="ic" style="left:836px;top:683.0px" width="24.600" height="17.300" viewBox="0 0 24.600 17.300"><rect width="24.600" height="17.300" rx="1.500" fill="#dcdcdc"/><g fill="#17181a"><rect x="10" y="6.400" width="4.800" height="1.500"/><rect x="16.200" y="6.400" width="5" height="1.500"/><rect x="10" y="9.800" width="11.200" height="1.500"/><path d="M5.200 5 h1.200 v.9 c.9 .1 1.500 .6 1.700 1.300 l-1 .3 c-.2 -.5 -.6 -.7 -1.300 -.7 c-.7 0 -1 .3 -1 .7 c0 .5 .5 .7 1.400 .9 c1.400 .3 2.200 .8 2.200 1.900 c0 1 -.8 1.600 -2 1.800 v.9 h-1.200 v-.9 c-1.100 -.1 -1.900 -.7 -2.100 -1.600 l1.100 -.3 c.2 .6 .7 1 1.600 1 c.8 0 1.300 -.3 1.300 -.8 c0 -.5 -.4 -.7 -1.500 -1 c-1.300 -.3 -2.100 -.8 -2.100 -1.800 c0 -.9 .7 -1.500 1.700 -1.700 z"/></g></svg>
<div class="t" style="left:875.60px;top:712px;font-size:20px;letter-spacing:-0.160px;font-weight:bold;color:#dcdcdc;">2043-2044 :</div>
<div class="t" style="left:985.78px;top:712px;font-size:20px;letter-spacing:0.592px;color:#dcdcdc;">N/A</div>
<svg class="ic" style="left:836px;top:713.2px" width="24.600" height="17.300" viewBox="0 0 24.600 17.300"><rect width="24.600" height="17.300" rx="1.500" fill="#dcdcdc"/><g fill="#17181a"><rect x="10" y="6.400" width="4.800" height="1.500"/><rect x="16.200" y="6.400" width="5" height="1.500"/><rect x="10" y="9.800" width="11.200" height="1.500"/><path d="M5.200 5 h1.200 v.9 c.9 .1 1.500 .6 1.700 1.300 l-1 .3 c-.2 -.5 -.6 -.7 -1.300 -.7 c-.7 0 -1 .3 -1 .7 c0 .5 .5 .7 1.400 .9 c1.400 .3 2.200 .8 2.200 1.900 c0 1 -.8 1.600 -2 1.800 v.9 h-1.200 v-.9 c-1.100 -.1 -1.900 -.7 -2.100 -1.600 l1.100 -.3 c.2 .6 .7 1 1.600 1 c.8 0 1.300 -.3 1.300 -.8 c0 -.5 -.4 -.7 -1.500 -1 c-1.300 -.3 -2.100 -.8 -2.100 -1.800 c0 -.9 .7 -1.500 1.700 -1.700 z"/></g></svg>
<div class="t" style="left:875.60px;top:742px;font-size:20px;letter-spacing:-1.406px;font-weight:bold;color:#dcdcdc;">Bird Years :</div>
<div class="t" style="left:975.22px;top:742px;font-size:20px;letter-spacing:0.592px;color:#dcdcdc;">N/A</div>
<div class="t" style="left:875.60px;top:772px;font-size:20px;letter-spacing:-1.263px;font-weight:bold;color:#dcdcdc;">Extension Eligible :</div>
<div class="t" style="left:1040.00px;top:772px;font-size:20px;letter-spacing:0.171px;color:#dcdcdc;">NO</div>
<div class="t" style="left:875.60px;top:802px;font-size:20px;letter-spacing:-1.051px;font-weight:bold;color:#dcdcdc;">Option Eligible :</div>
<div class="t" style="left:1016.03px;top:802px;font-size:20px;letter-spacing:0.171px;color:#dcdcdc;">NO</div>
<svg class="ic" style="left:838px;top:741.500px" width="21" height="21" viewBox="0 0 21 21"><path fill="#dcdcdc" d="M20.600 .2 C13 -.6 6.500 2.500 4.600 8 C3.800 10.300 4 12.600 4.400 14.200 L12.500 6.800 C13 6.400 13.600 7 13.200 7.500 L.3 19.600 C-.4 20.400 .6 21.400 1.400 20.700 L4.600 17.600 C7 18 10 17.800 12.300 16.300 L9.400 15.900 L14.300 14.600 C15.400 13.600 16.300 12.500 17 11.300 L12.800 10.900 L18.300 8.800 C19.600 6.200 20.400 3.200 20.600 .2 Z"/></svg>
<svg class="ic" style="left:838px;top:772.500px" width="21" height="19.500" viewBox="0 0 21 19.500"><path fill="none" stroke="#dcdcdc" stroke-width="2.600" stroke-linejoin="round" d="M9.500 4.300 H2.800 C2 4.300 1.300 5 1.300 5.800 V16.700 C1.300 17.500 2 18.200 2.800 18.200 H13.700 C14.500 18.200 15.200 17.500 15.200 16.700 V11.800"/><path fill="#dcdcdc" d="M12.200 0 H20.200 C20.600 0 21 .4 21 .8 V8.800 L18.200 6 L9.600 14.600 L6.600 11.600 L15.200 3 Z"/></svg>
<svg class="ic" style="left:838.2px;top:798.6px;" width="20.8929" height="22.5" viewBox="0 -256 1664 1792"><path fill="#dcdcdc" transform="translate(0,1536) scale(1,-1)" d="M256 192q0 26 -19 45t-45 19q-27 0 -45.5 -19t-18.5 -45q0 -27 18.5 -45.5t45.5 -18.5q26 0 45 18.5t19 45.5zM416 704v-640q0 -26 -19 -45t-45 -19h-288q-26 0 -45 19t-19 45v640q0 26 19 45t45 19h288q26 0 45 -19t19 -45zM1600 704q0 -86 -55 -149q15 -44 15 -76
q3 -76 -43 -137q17 -56 0 -117q-15 -57 -54 -94q9 -112 -49 -181q-64 -76 -197 -78h-36h-76h-17q-66 0 -144 15.5t-121.5 29t-120.5 39.5q-123 43 -158 44q-26 1 -45 19.5t-19 44.5v641q0 25 18 43.5t43 20.5q24 2 76 59t101 121q68 87 101 120q18 18 31 48t17.5 48.5
t13.5 60.5q7 39 12.5 61t19.5 52t34 50q19 19 45 19q46 0 82.5 -10.5t60 -26t40 -40.5t24 -45t12 -50t5 -45t0.5 -39q0 -38 -9.5 -76t-19 -60t-27.5 -56q-3 -6 -10 -18t-11 -22t-8 -24h277q78 0 135 -57t57 -135z"/></svg>
<div class="t" style="left:857.00px;top:941px;font-size:20px;letter-spacing:-1.367px;font-weight:bold;color:#ececec;">Points :</div>
<div class="t" style="left:923.68px;top:941px;font-size:20px;letter-spacing:0.979px;color:#ececec;">20</div>
<div class="abs" style="left:838.500px;top:948.6px;width:6.600px;height:6.600px;border-radius:50%;background:#ececec"></div>
<div class="t" style="left:856.00px;top:971px;font-size:20px;letter-spacing:-1.642px;font-weight:bold;color:#ececec;">Assists :</div>
<div class="t" style="left:931.16px;top:971px;font-size:20px;color:#ececec;">5</div>
<div class="abs" style="left:838.500px;top:978.7px;width:6.600px;height:6.600px;border-radius:50%;background:#ececec"></div>
<div class="t" style="left:857.00px;top:1001px;font-size:20px;letter-spacing:-1.674px;font-weight:bold;color:#ececec;">Rebounds :</div>
<div class="t" style="left:955.84px;top:1001px;font-size:20px;letter-spacing:-0.021px;color:#ececec;">17</div>
<div class="abs" style="left:838.500px;top:1008.9px;width:6.600px;height:6.600px;border-radius:50%;background:#ececec"></div>
<div class="t" style="left:857.00px;top:1031px;font-size:20px;letter-spacing:-1.633px;font-weight:bold;color:#ececec;">Blocks :</div>
<div class="t" style="left:928.29px;top:1031px;font-size:20px;color:#ececec;">5</div>
<div class="abs" style="left:838.500px;top:1039.0px;width:6.600px;height:6.600px;border-radius:50%;background:#ececec"></div>
<div class="t" style="left:857.00px;top:1061px;font-size:20px;letter-spacing:-1.515px;font-weight:bold;color:#ececec;">Steals :</div>
<div class="t" style="left:921.46px;top:1061px;font-size:20px;color:#ececec;">4</div>
<div class="abs" style="left:838.500px;top:1069.1px;width:6.600px;height:6.600px;border-radius:50%;background:#ececec"></div>
<div class="t" style="left:857.00px;top:1091px;font-size:20px;letter-spacing:-1.129px;font-weight:bold;color:#ececec;">Double Doubles :</div>
<div class="t" style="left:1009.42px;top:1091px;font-size:20px;color:#ececec;">9</div>
<div class="abs" style="left:838.500px;top:1099.2px;width:6.600px;height:6.600px;border-radius:50%;background:#ececec"></div>
<div class="t" style="left:857.00px;top:1122px;font-size:20px;letter-spacing:-1.145px;font-weight:bold;color:#ececec;">Triple Doubles :</div>
<div class="t" style="left:993.76px;top:1122px;font-size:20px;color:#ececec;">0</div>
<div class="abs" style="left:838.500px;top:1129.4px;width:6.600px;height:6.600px;border-radius:50%;background:#ececec"></div>
<div class="t" style="left:1114.20px;top:941px;font-size:20px;letter-spacing:-1.254px;font-weight:bold;color:#ececec;">All Star Games :</div>
<div class="t" style="left:1253.82px;top:941px;font-size:20px;color:#ececec;">0</div>
<div class="abs" style="left:1096.500px;top:948.6px;width:6.600px;height:6.600px;border-radius:50%;background:#ececec"></div>
<div class="t" style="left:1115.20px;top:971px;font-size:20px;letter-spacing:-0.920px;font-weight:bold;color:#ececec;">Titles Won :</div>
<div class="t" style="left:1221.59px;top:971px;font-size:20px;color:#ececec;">0</div>
<div class="abs" style="left:1096.500px;top:978.7px;width:6.600px;height:6.600px;border-radius:50%;background:#ececec"></div>
<div class="t" style="left:1115.20px;top:1001px;font-size:20px;letter-spacing:-1.073px;font-weight:bold;color:#ececec;">Player of the Game :</div>
<div class="t" style="left:1292.14px;top:1001px;font-size:20px;color:#ececec;">1</div>
<div class="abs" style="left:1096.500px;top:1008.9px;width:6.600px;height:6.600px;border-radius:50%;background:#ececec"></div>
<div class="t" style="left:1115.20px;top:1031px;font-size:20px;letter-spacing:-0.889px;font-weight:bold;color:#ececec;">Player of the Week :</div>
<div class="t" style="left:1291.93px;top:1031px;font-size:20px;color:#ececec;">0</div>
<div class="abs" style="left:1096.500px;top:1039.0px;width:6.600px;height:6.600px;border-radius:50%;background:#ececec"></div>
<div class="t" style="left:1115.20px;top:1061px;font-size:20px;letter-spacing:-0.862px;font-weight:bold;color:#ececec;">Player of the Month :</div>
<div class="t" style="left:1299.67px;top:1061px;font-size:20px;color:#ececec;">0</div>
<div class="abs" style="left:1096.500px;top:1069.1px;width:6.600px;height:6.600px;border-radius:50%;background:#ececec"></div>
<div class="t" style="left:1115.20px;top:1091px;font-size:20px;letter-spacing:-0.903px;font-weight:bold;color:#ececec;">Rookie of the Month :</div>
<div class="t" style="left:1305.48px;top:1091px;font-size:20px;color:#ececec;">0</div>
<div class="abs" style="left:1096.500px;top:1099.2px;width:6.600px;height:6.600px;border-radius:50%;background:#ececec"></div>
<svg class="ic" style="left:838.300px;top:382px" width="29.400" height="29" viewBox="0 0 29.400 29"><g fill="#333436"><path d="M3.200 .8 C3.800 .2 4.700 .2 5.300 .8 L9.200 4.700 L11.600 2.300 C12.800 1.100 14.600 1.100 15.800 2.300 L27.400 13.900 C28.600 15.100 28.600 16.900 27.400 18.100 L17.400 28.100 C16.200 29.300 14.400 29.300 13.200 28.100 L1.600 16.500 C.4 15.300 .4 13.500 1.600 12.300 L7.100 6.800 L3.200 2.900 C2.600 2.300 2.600 1.400 3.200 .8 Z"/></g><path fill="#17181a" d="M9.200 8.900 L13.600 13.300 C14.200 13.900 15.100 13.900 15.700 13.300 C16.300 12.700 16.300 11.800 15.700 11.200 L11.300 6.800 L13.700 4.400 L23.500 14.200 H4 Z"/></svg>
<svg class="ic" style="left:968.0px;top:382.0px" width="29.0" height="29.0" viewBox="0 0 1536 1536" preserveAspectRatio="xMidYMid meet"><path fill="#333436" transform="translate(-0,1408) scale(1,-1)" d="M1197 512h-109q-26 0 -45 19t-19 45v128q0 26 19 45t45 19h109q-32 108 -112.5 188.5t-188.5 112.5v-109q0 -26 -19 -45t-45 -19h-128q-26 0 -45 19t-19 45v109q-108 -32 -188.5 -112.5t-112.5 -188.5h109q26 0 45 -19t19 -45v-128q0 -26 -19 -45t-45 -19h-109
q32 -108 112.5 -188.5t188.5 -112.5v109q0 26 19 45t45 19h128q26 0 45 -19t19 -45v-109q108 32 188.5 112.5t112.5 188.5zM1536 704v-128q0 -26 -19 -45t-45 -19h-143q-37 -161 -154.5 -278.5t-278.5 -154.5v-143q0 -26 -19 -45t-45 -19h-128q-26 0 -45 19t-19 45v143
q-161 37 -278.5 154.5t-154.5 278.5h-143q-26 0 -45 19t-19 45v128q0 26 19 45t45 19h143q37 161 154.5 278.5t278.5 154.5v143q0 26 19 45t45 19h128q26 0 45 -19t19 -45v-143q161 -37 278.5 -154.5t154.5 -278.5h143q26 0 45 -19t19 -45z"/></svg>
<svg class="ic" style="left:1102.4px;top:382.0px" width="18.6" height="29.0" viewBox="0 0 896.259 1664" preserveAspectRatio="xMidYMid meet"><path fill="#333436" transform="translate(0.0869565,1408) scale(1,-1)" d="M885 970q18 -20 7 -44l-540 -1157q-13 -25 -42 -25q-4 0 -14 2q-17 5 -25.5 19t-4.5 30l197 808l-406 -101q-4 -1 -12 -1q-18 0 -31 11q-18 15 -13 39l201 825q4 14 16 23t28 9h328q19 0 32 -12.5t13 -29.5q0 -8 -5 -18l-171 -463l396 98q8 2 12 2q19 0 34 -15z"/></svg>
<svg class="ic" style="left:1225.500px;top:382px" width="29.400" height="29" viewBox="0 0 29.400 29"><path fill="#333436" d="M1.800 0 H21.800 C22.800 0 23.600 .8 23.600 1.800 V7.300 C23.600 8.300 22.800 9.100 21.800 9.100 H1.800 C.8 9.100 0 8.300 0 7.300 V1.800 C0 .8 .8 0 1.800 0 Z M25.400 3.600 H25.800 C27.800 3.600 29.400 5.200 29.400 7.200 V10.900 C29.400 12.900 27.800 14.500 25.800 14.500 H16.300 V16.300 C17.300 16.300 18.100 17.100 18.100 18.100 V27.200 C18.100 28.200 17.300 29 16.300 29 H12.700 C11.700 29 10.900 28.200 10.900 27.200 V18.100 C10.900 17.100 11.700 16.300 12.700 16.300 V14.500 C12.700 12.500 14.300 10.900 16.300 10.900 H25.400 Z"/></svg>
<svg class="ic" style="left:838.300px;top:444px" width="29.400" height="29.400" viewBox="0 0 29.400 29.400"><path fill="#333436" d="M23.200 0 L14.500 5.200 C12.800 6.200 11.500 7.800 10.800 9.600 L5.500 23.900 H12 L10.600 21.800 L13.300 20.200 L12.200 17.200 L15.300 18 L16.600 15.200 L18 18 L21 17.200 L20 20.200 L22.700 21.800 L21.300 23.900 H26.700 L20.400 9.400 Z M.9 25.700 H28.500 C29 25.700 29.400 26.100 29.400 26.600 V28.500 C29.400 29 29 29.400 28.500 29.400 H.9 C.4 29.400 0 29 0 28.500 V26.600 C0 26.100 .4 25.700 .9 25.700 Z"/></svg>
<svg class="ic" style="left:968.0px;top:444.0px" width="29.0" height="29.4" viewBox="0 0 1637 1637" preserveAspectRatio="xMidYMid meet"><path fill="#333436" transform="translate(-27,1536) scale(1,-1)" d="M1190 955l293 293l-107 107l-293 -293zM1637 1248q0 -27 -18 -45l-1286 -1286q-18 -18 -45 -18t-45 18l-198 198q-18 18 -18 45t18 45l1286 1286q18 18 45 18t45 -18l198 -198q18 -18 18 -45zM286 1438l98 -30l-98 -30l-30 -98l-30 98l-98 30l98 30l30 98zM636 1276
l196 -60l-196 -60l-60 -196l-60 196l-196 60l196 60l60 196zM1566 798l98 -30l-98 -30l-30 -98l-30 98l-98 30l98 30l30 98zM926 1438l98 -30l-98 -30l-30 -98l-30 98l-98 30l98 30l30 98z"/></svg>
<svg class="ic" style="left:1097.5px;top:444.0px" width="27.2" height="29.4" viewBox="0 0 1280 1536" preserveAspectRatio="xMidYMid meet"><path fill="#333436" transform="translate(-0,1408) scale(1,-1)" d="M1088 576v640h-448v-1137q119 63 213 137q235 184 235 360zM1280 1344v-768q0 -86 -33.5 -170.5t-83 -150t-118 -127.5t-126.5 -103t-121 -77.5t-89.5 -49.5t-42.5 -20q-12 -6 -26 -6t-26 6q-16 7 -42.5 20t-89.5 49.5t-121 77.5t-126.5 103t-118 127.5t-83 150
t-33.5 170.5v768q0 26 19 45t45 19h1152q26 0 45 -19t19 -45z"/></svg>
<svg class="ic" style="left:1223.800px;top:444px" width="35.500" height="29.400" viewBox="0 0 35.500 29.400"><path fill="#333436" d="M35.100 1.400 L34.200 .3 C33.900 -.1 33.300 -.1 32.900 .2 L21.500 9.100 L19.800 6.900 C19.500 6.500 18.900 6.500 18.500 6.800 L17.400 7.700 C17 8 17 8.600 17.300 9 L23.500 16.900 C23.800 17.300 24.400 17.300 24.800 17 L25.900 16.100 C26.300 15.800 26.300 15.200 26 14.800 L24.300 12.600 L35 4 C35.400 3.500 35.400 1.800 35.100 1.400 Z M15.800 10 L7.400 12.100 C6.600 12.300 6 12.900 5.800 13.700 L4.400 19.700 L9.300 18.600 L4 22 L0 29.400 H13.200 C16.500 28.900 19.400 26.600 21 23.500 L22.100 17.900 Z"/></svg>
</section>
<section id="charts">
<div class="t" style="left:1353.00px;top:322px;font-size:22.6px;letter-spacing:-1.420px;font-weight:bold;color:#f4f4f4;">Floor Range By Percentage</div>
<div class="hr" style="left:1353px;top:364px;width:669px"></div>
<div class="t" style="left:1353.00px;top:733px;font-size:22.6px;letter-spacing:-1.356px;font-weight:bold;color:#f4f4f4;">Ball Actions By Percentage</div>
<div class="hr" style="left:1353px;top:774.500px;width:669px"></div>
<div class="abs" style="left:1445.5px;top:394.3px;width:48.5px;height:14.6px;background:#052c65;box-shadow:inset 0 0 0 2px #1f2123"></div>
<div class="t" style="left:1500.30px;top:394px;font-size:14.4px;letter-spacing:0.212px;color:#666;">Post (76%)</div>
<div class="abs" style="left:1584.3px;top:394.3px;width:48.7px;height:14.6px;background:#1f4478;box-shadow:inset 0 0 0 2px #1f2123"></div>
<div class="t" style="left:1639.30px;top:394px;font-size:14.4px;letter-spacing:0.132px;color:#666;">Midrange (19%)</div>
<div class="abs" style="left:1754.3px;top:394.3px;width:48.7px;height:14.6px;background:#50709f;box-shadow:inset 0 0 0 2px #1f2123"></div>
<div class="t" style="left:1810.30px;top:394px;font-size:14.4px;letter-spacing:0.052px;color:#666;">Corner Three (0%)</div>
<div class="abs" style="left:1580.8px;top:420.5px;width:48.5px;height:14.6px;background:#8ea5c8;box-shadow:inset 0 0 0 2px #1f2123"></div>
<div class="t" style="left:1636.30px;top:420px;font-size:14.4px;letter-spacing:0.054px;color:#666;">Above Break Three (5%)</div>
<svg class="ic" style="left:1550.5px;top:445.5px" width="273" height="273" viewBox="1550.5 445.5 273 273"><path d="M1687.00 448.50 A133.50 133.50 0 1 1 1553.76 573.62 L1620.63 577.82 A66.50 66.50 0 1 0 1687.00 515.50 Z" fill="#052c65" stroke="#1f2123" stroke-width="2.400" stroke-linejoin="round"/><path d="M1553.76 573.62 A133.50 133.50 0 0 1 1645.75 455.03 L1666.45 518.75 A66.50 66.50 0 0 0 1620.63 577.82 Z" fill="#1f4478" stroke="#1f2123" stroke-width="2.400" stroke-linejoin="round"/><path d="M1645.75 455.03 A133.50 133.50 0 0 1 1687.00 448.50 L1687.00 515.50 A66.50 66.50 0 0 0 1666.45 518.75 Z" fill="#8ea5c8" stroke="#1f2123" stroke-width="2.400" stroke-linejoin="round"/></svg>
<div class="abs" style="left:1407.6px;top:804.2px;width:49.1px;height:14.6px;background:#052c65;box-shadow:inset 0 0 0 2px #1f2123"></div>
<div class="t" style="left:1462.80px;top:804px;font-size:14.4px;letter-spacing:0.134px;color:#666;">Drive &amp; Pass (0%)</div>
<div class="abs" style="left:1593.4px;top:804.2px;width:48.4px;height:14.6px;background:#1f4478;box-shadow:inset 0 0 0 2px #1f2123"></div>
<div class="t" style="left:1648.20px;top:804px;font-size:14.4px;letter-spacing:0.096px;color:#666;">Drive &amp; Shoot (0%)</div>
<div class="abs" style="left:1784.8px;top:804.2px;width:47.5px;height:14.6px;background:#50709f;box-shadow:inset 0 0 0 2px #1f2123"></div>
<div class="t" style="left:1839.80px;top:804px;font-size:14.4px;letter-spacing:0.077px;color:#666;">Catch &amp; Shoot (7%)</div>
<div class="abs" style="left:1425.7px;top:830.8px;width:47.9px;height:14.6px;background:#8ea5c8;box-shadow:inset 0 0 0 2px #1f2123"></div>
<div class="t" style="left:1479.70px;top:830px;font-size:14.4px;letter-spacing:0.124px;color:#666;">Pull Up Jumper (3%)</div>
<div class="abs" style="left:1626.0px;top:830.8px;width:48.0px;height:14.6px;background:#b8c4d8;box-shadow:inset 0 0 0 2px #1f2123"></div>
<div class="t" style="left:1680.00px;top:830px;font-size:14.4px;letter-spacing:0.142px;color:#666;">Post Up Shot (30%)</div>
<div class="abs" style="left:1821.3px;top:830.8px;width:47.2px;height:14.6px;background:#4d96d4;box-shadow:inset 0 0 0 2px #1f2123"></div>
<div class="t" style="left:1875.30px;top:830px;font-size:14.4px;letter-spacing:0.235px;color:#666;">Pass (60%)</div>
<svg class="ic" style="left:1552.1px;top:855.5px" width="271" height="271" viewBox="1552.1 855.5 271 271"><path d="M1687.70 858.50 A132.60 132.60 0 0 1 1744.16 871.12 L1716.06 930.84 A66.60 66.60 0 0 0 1687.70 924.50 Z" fill="#50709f" stroke="#1f2123" stroke-width="2.400" stroke-linejoin="round"/><path d="M1744.16 871.12 A132.60 132.60 0 0 1 1765.64 883.82 L1726.85 937.22 A66.60 66.60 0 0 0 1716.06 930.84 Z" fill="#8ea5c8" stroke="#1f2123" stroke-width="2.400" stroke-linejoin="round"/><path d="M1765.64 883.82 A132.60 132.60 0 0 1 1765.64 1098.38 L1726.85 1044.98 A66.60 66.60 0 0 0 1726.85 937.22 Z" fill="#b8c4d8" stroke="#1f2123" stroke-width="2.400" stroke-linejoin="round"/><path d="M1765.64 1098.38 A132.60 132.60 0 1 1 1687.70 858.50 L1687.70 924.50 A66.60 66.60 0 1 0 1726.85 1044.98 Z" fill="#4d96d4" stroke="#1f2123" stroke-width="2.400" stroke-linejoin="round"/></svg>
<div class="t" style="left:1916.40px;top:1149px;font-size:18.6px;color:#7e7e7e;letter-spacing:.2px;">Activate Windows</div>
<div class="t" style="left:1916.40px;top:1174px;font-size:12.9px;color:#7e7e7e;letter-spacing:.35px;">Go to Settings to activate Windows.</div>
</section>
</main>
</body>
</html>
